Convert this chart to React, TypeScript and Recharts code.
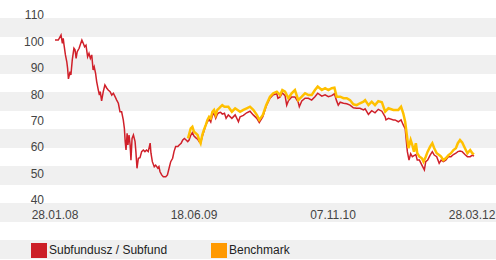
import { LineChart, Line, XAxis, YAxis } from "recharts";

// days since 28.01.08
const xTickDays = [0, 507, 1014, 1521];
const xTickLabels = ["28.01.08", "18.06.09", "07.11.10", "28.03.12"];
const yTicks = [40, 50, 60, 70, 80, 90, 100, 110];

const subfundDays = [
  0, 12, 22, 27, 30, 33, 38, 43, 46, 49,
  55, 58, 63, 69, 73, 77, 81, 88, 94, 98,
  103, 108, 113, 119, 124, 129, 134, 139, 143, 148,
  152, 158, 162, 165, 170, 176, 182, 189, 194, 201,
  207, 213, 219, 225, 231, 237, 243, 249, 253, 256,
  259, 263, 266, 270, 274, 277, 281, 286, 292, 295,
  299, 304, 310, 316, 322, 328, 334, 340, 347, 350,
  355, 362, 367, 375, 379, 383, 389, 395, 404, 410,
  416, 422, 429, 434, 440, 448, 453, 460, 466, 472,
  478, 484, 489, 495, 501, 507, 514, 520, 526, 531,
  537, 543, 550, 556, 562, 568, 574, 580, 586, 592,
  598, 604, 610, 618, 624, 632, 645, 657, 669, 675,
  687, 699, 711, 723, 736, 745, 758, 770, 784, 796,
  809, 813, 821, 829, 839, 845, 851, 863, 875, 887,
  891, 900, 912, 924, 936, 948, 958, 973, 985, 997,
  1009, 1019, 1027, 1033, 1040, 1052, 1064, 1076, 1088, 1100,
  1112, 1125, 1131, 1143, 1155, 1167, 1179, 1192, 1204, 1207,
  1216, 1234, 1240, 1252, 1262, 1270, 1277, 1285, 1291, 1297,
  1303, 1309, 1316, 1321, 1329, 1338, 1347, 1352, 1359, 1368,
  1376, 1383, 1392, 1401, 1408, 1416, 1425, 1435, 1444, 1453,
  1462, 1469, 1477, 1485, 1495, 1504, 1514, 1522, 1528,
];

const subfundValues = [
  100.5, 100.5, 102.4, 99.3, 101.2, 98.6, 94.9, 92.3, 89.8, 85.8,
  88.6, 87.3, 93, 97.4, 96.8, 93.6, 96.1, 97.4, 99.3, 100.5,
  99.3, 98.0, 98.6, 94.2, 95.5, 93.6, 94.9, 89.2, 90.4, 87.9,
  84.8, 81.6, 79.7, 81, 77.5, 81, 83.5, 82.3, 81.6, 81,
  79.7, 80.4, 79.1, 77.8, 76.6, 73.4, 73.4, 70.3, 67.1, 62.1,
  58.9, 65.2, 60.8, 64.6, 60.8, 55.1, 63.3, 64.6, 62.1, 58.3,
  52, 55.8, 56, 58.3, 58.9, 58.3, 58.9, 58.3, 61.5, 57.7,
  54.5, 52.6, 53.2, 52, 52.6, 50.7, 49.5, 48.8, 48.8, 49.5,
  52, 54.5, 55.8, 58.3, 60.2, 60.2, 60.8, 61.5, 62.7, 63.3,
  62.7, 62.1, 62.7, 64.5, 65.5, 64.2, 63.5, 63, 62, 61.5,
  64, 66, 68.5, 69.6, 70.5, 69.5, 72, 72.8, 70.9, 72.5,
  73, 73.2, 72.5, 72.8, 70.9, 72.2, 70.9, 72.2, 69.6, 71.5,
  72, 73, 73.6, 72.2, 70.9, 69.3, 71.5, 75.5, 78.5, 79.8,
  80.2, 78.5, 79, 80.5, 79.5, 75.9, 77.5, 79, 79, 77,
  75.3, 77.5, 78.5, 78.5, 77.8, 79.1, 80.4, 79.3, 79.8, 79.1,
  79.5, 80.2, 77.5, 75.9, 77, 76.6, 76.4, 75.9, 74.9, 74.7,
  74.7, 74.1, 74.5, 72.4, 73.8, 73.0, 74.3, 73.6, 71.5, 70.3,
  70.9, 70.3, 70.3, 69.6, 70.3, 68.4, 67, 58.3, 55.1, 57.5,
  56.4, 56.8, 57.2, 55.1, 55.1, 53.2, 51.4, 54.5, 55.1, 57,
  58.3, 57, 56.4, 53.9, 55.1, 54.5, 55.1, 56.4, 56.4, 57.2,
  57.7, 58.3, 58.5, 58.3, 57.2, 56.4, 56.4, 57.0, 56.6,
];

const benchmarkDays = [
  485, 495, 501, 507, 514, 520, 526, 531, 537, 543,
  550, 556, 562, 568, 574, 580, 586, 592, 598, 604,
  610, 618, 632, 645, 657, 675, 687, 699, 711, 723,
  736, 745, 758, 770, 784, 796, 809, 821, 829, 839,
  851, 863, 875, 887, 900, 912, 924, 936, 948, 958,
  973, 985, 997, 1009, 1019, 1027, 1040, 1052, 1064, 1076,
  1088, 1100, 1112, 1125, 1131, 1143, 1155, 1167, 1179, 1192,
  1204, 1216, 1234, 1252, 1262, 1270, 1277, 1283, 1289, 1297,
  1303, 1309, 1316, 1321, 1329, 1338, 1344, 1352, 1359, 1368,
  1376, 1383, 1392, 1401, 1408, 1416, 1425, 1435, 1444, 1453,
  1462, 1469, 1477, 1485, 1495, 1504, 1514, 1522, 1528,
];

const benchmarkValues = [
  63.3, 67.1, 67.7, 65.8, 65.2, 64.6, 62.7, 61.5, 64.6, 66.5,
  68.4, 70.3, 71.5, 70.9, 73.4, 74.1, 72.2, 74.1, 74.7, 75.3,
  75.9, 75.3, 75.3, 73.4, 74.7, 73.4, 74.1, 74.7, 75.3, 74.1,
  72.2, 70.3, 72.2, 75.9, 79.1, 80.4, 81, 79.7, 81.6, 81,
  78.5, 80.4, 81.6, 77.8, 79.1, 80.4, 79.7, 79.7, 81.6, 82.9,
  81.6, 82.3, 81.6, 82.3, 82.5, 79.1, 79.1, 78.5, 78.5, 77.8,
  76.2, 75.9, 76.6, 77.2, 77.8, 75.9, 77.2, 75.9, 77.4, 77,
  73.4, 74.7, 74.1, 74.1, 75.3, 72.8, 69.6, 64.6, 59.6, 62.7,
  60.8, 58.3, 61.5, 57.7, 56.4, 55.8, 54.5, 56.4, 58.3, 60.2,
  61.5, 59.6, 57.7, 57, 56.4, 55.1, 55.8, 57, 57.7, 58.9,
  59.6, 61.5, 62.7, 61.8, 59.6, 57.7, 58.9, 57.7, 57.3,
];

const legendItems = [
  { label: "Subfundusz / Subfund", color: "#cc1f27" },
  { label: "Benchmark", color: "#ff9900" },
];

const subfundData = subfundDays.map((d, i) => ({ day: d, value: subfundValues[i] }));
const benchmarkData = benchmarkDays.map((d, i) => ({ day: d, value: benchmarkValues[i] }));

const font = '"Liberation Sans", Arial, sans-serif';

export default function App() {
  return (
    <div
      style={{
        position: "absolute",
        left: 0,
        top: 0,
        width: 496,
        height: 260,
        fontFamily: font,
        background:
          "repeating-linear-gradient(to bottom, #ffffff 0px, #ffffff 18px, #f0f0f0 18px, #f0f0f0 37px)",
      }}
    >
      <LineChart
        width={496}
        height={240}
        margin={{ top: 15, right: 22, bottom: 0, left: 0 }}
      >
        <XAxis
          dataKey="day"
          type="number"
          domain={[0, 1528]}
          ticks={xTickDays}
          tickFormatter={(v: number) => xTickLabels[xTickDays.indexOf(v)]}
          interval={0}
          axisLine={false}
          tickLine={false}
          tickSize={0}
          tickMargin={10}
          height={40}
          tick={{ fill: "#444", fontSize: 12, fontFamily: font }}
        />
        <YAxis
          type="number"
          domain={[40, 110]}
          ticks={yTicks}
          interval={0}
          axisLine={false}
          tickLine={false}
          tickSize={0}
          tickMargin={11}
          width={55}
          tick={{ fill: "#444", fontSize: 12, fontFamily: font }}
        />
        <Line
          data={subfundData}
          dataKey="value"
          type="linear"
          stroke="#d0202a"
          strokeWidth={1.5}
          dot={false}
          isAnimationActive={false}
        />
        <Line
          data={benchmarkData}
          dataKey="value"
          type="linear"
          stroke="#ffc000"
          strokeWidth={2.5}
          dot={false}
          isAnimationActive={false}
        />
      </LineChart>
      <div
        style={{
          position: "absolute",
          left: 31,
          top: 242,
          height: 16,
          display: "flex",
          alignItems: "center",
          fontSize: 12,
          color: "#222",
        }}
      >
        {legendItems.map((item) => (
          <div
            key={item.label}
            style={{ display: "flex", alignItems: "center", width: 180 }}
          >
            <span
              style={{
                display: "inline-block",
                width: 16,
                height: 15,
                background: item.color,
                marginRight: 2,
              }}
            />
            <span>{item.label}</span>
          </div>
        ))}
      </div>
    </div>
  );
}
